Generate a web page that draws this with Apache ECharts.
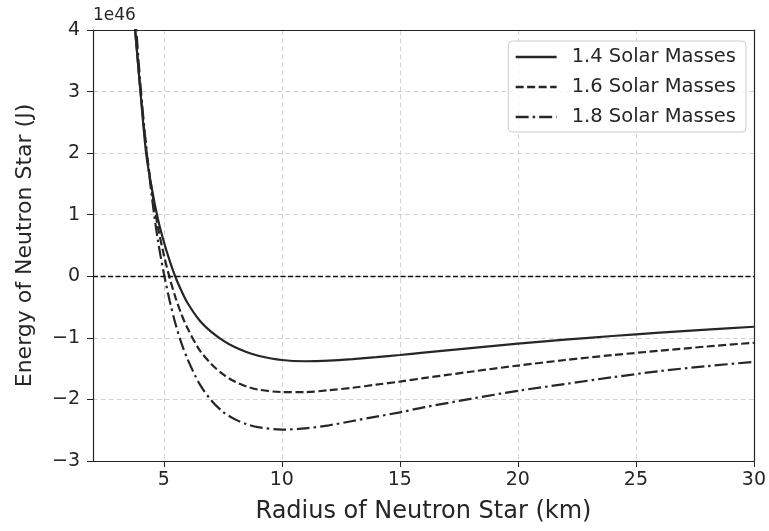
<!DOCTYPE html>
<html>
<head>
<meta charset="utf-8">
<script src="https://cdn.jsdelivr.net/npm/echarts@6/dist/echarts.min.js"></script>
<style>
  html, body { margin: 0; padding: 0; background: #fff; }
  #chart { width: 769px; height: 531px; }
</style>
</head>
<body>
<div id="chart"></div>
<script>
// radius in km, energy in units of 1e46 J
var radius = [3.6, 3.7, 3.8, 4.0, 4.25, 4.5, 4.75, 5.0, 5.25, 5.5, 5.75, 6.0, 6.5, 7.0, 7.5, 8.0, 8.5, 9, 10, 11, 12, 13, 14, 15, 16, 18, 20, 22, 24, 26, 28, 30];
var energy14 = [4.85, 4.35, 3.92, 3.05, 2.0, 1.41, 0.93, 0.56, 0.25, -0.02, -0.24, -0.43, -0.71, -0.90, -1.04, -1.15, -1.23, -1.29, -1.36, -1.38, -1.37, -1.345, -1.313, -1.278, -1.24, -1.166, -1.095, -1.03, -0.97, -0.915, -0.866, -0.82];
var energy16 = [4.9, 4.4, 3.95, 3.05, 2.09, 1.38, 0.80, 0.35, -0.03, -0.35, -0.62, -0.84, -1.19, -1.42, -1.59, -1.71, -1.79, -1.84, -1.88, -1.88, -1.85, -1.81, -1.76, -1.71, -1.655, -1.55, -1.45, -1.36, -1.28, -1.21, -1.14, -1.08];
var energy18 = [5.43, 4.78, 4.19, 3.16, 2.11, 1.27, 0.58, 0.05, -0.40, -0.78, -1.09, -1.34, -1.74, -2.01, -2.20, -2.32, -2.40, -2.45, -2.49, -2.47, -2.42, -2.35, -2.28, -2.21, -2.13, -1.99, -1.86, -1.75, -1.64, -1.54, -1.46, -1.39];
var seriesNames = ['1.4 Solar Masses', '1.6 Solar Masses', '1.8 Solar Masses'];
var xTicks = [5, 10, 15, 20, 25, 30];

var FONT = 'DejaVu Sans';
var INK = '#262626';

function pairs(ys) {
  return radius.map(function (r, i) { return [r, ys[i]]; });
}

var chart = echarts.init(document.getElementById('chart'));

// frame lines on top / right (no ticks, like matplotlib spines)
var frameAxis = {
  show: true, z: 5,
  axisLine: { show: true, onZero: false, lineStyle: { color: INK, width: 1.2 } },
  axisTick: { show: false },
  axisLabel: { show: false },
  splitLine: { show: false }
};

var option = {
  animation: false,
  textStyle: { fontFamily: FONT },
  grid: { left: 93, right: 15, top: 30, bottom: 70 },
  graphic: [{
    type: 'text', left: 93, top: 7,
    style: { text: '1e46', font: '17px "DejaVu Sans"', fill: INK }
  }],
  legend: {
    right: 23, top: 41,
    orient: 'vertical',
    itemWidth: 41, itemHeight: 14, itemGap: 10,
    padding: [6, 10, 5, 6],
    borderColor: '#cccccc', borderWidth: 1, borderRadius: 4,
    backgroundColor: 'rgba(255,255,255,0.8)',
    itemStyle: { opacity: 0 },
    lineStyle: { width: 2.6 },
    textStyle: { fontFamily: FONT, fontSize: 19.5, color: INK, padding: [0, 0, 0, 10] },
    data: seriesNames
  },
  xAxis: [{
    type: 'value', min: 2, max: 30,
    name: 'Radius of Neutron Star (km)', nameLocation: 'middle', nameGap: 39,
    nameTextStyle: { fontFamily: FONT, fontSize: 24, color: INK },
    axisLine: { onZero: false, lineStyle: { color: INK, width: 1.2 } },
    axisTick: { show: true, length: 6, lineStyle: { color: INK }, customValues: xTicks },
    axisLabel: { fontFamily: FONT, fontSize: 19, color: INK, margin: 10, customValues: xTicks },
    splitLine: { show: true, lineStyle: { color: '#d4d4d4', type: [5, 3] } }
  }, Object.assign({ type: 'value', min: 2, max: 30, position: 'top' }, frameAxis)],
  yAxis: [{
    type: 'value', min: -3, max: 4, interval: 1,
    name: 'Energy of Neutron Star (J)', nameLocation: 'middle', nameGap: 57,
    nameTextStyle: { fontFamily: FONT, fontSize: 22, color: INK },
    axisLine: { show: true, onZero: false, lineStyle: { color: INK, width: 1.2 } },
    axisTick: { show: true, length: 6, lineStyle: { color: INK } },
    axisLabel: {
      fontFamily: FONT, fontSize: 19, color: INK, margin: 13,
      formatter: function (v) { return String(v).replace('-', '\u2212'); }
    },
    splitLine: { show: true, lineStyle: { color: '#d4d4d4', type: [5, 3] } }
  }, Object.assign({ type: 'value', min: -3, max: 4, position: 'right' }, frameAxis)],
  series: [
    {
      name: seriesNames[0], type: 'line', data: pairs(energy14),
      symbol: 'none', smooth: 0.3,
      lineStyle: { color: INK, width: 2.2, type: 'solid' },
      itemStyle: { color: INK },
      markLine: {
        silent: true, symbol: 'none', label: { show: false },
        lineStyle: { color: '#111', width: 1.3, type: [5, 2.5] },
        data: [{ yAxis: 0 }]
      }
    },
    {
      name: seriesNames[1], type: 'line', data: pairs(energy16),
      symbol: 'none', smooth: 0.3,
      lineStyle: { color: INK, width: 2.2, type: [8, 3.5] },
      itemStyle: { color: INK }
    },
    {
      name: seriesNames[2], type: 'line', data: pairs(energy18),
      symbol: 'none', smooth: 0.3,
      lineStyle: { color: INK, width: 2.2, type: [13, 4, 2.5, 4] },
      itemStyle: { color: INK }
    }
  ]
};

chart.setOption(option);
</script>
</body>
</html>
